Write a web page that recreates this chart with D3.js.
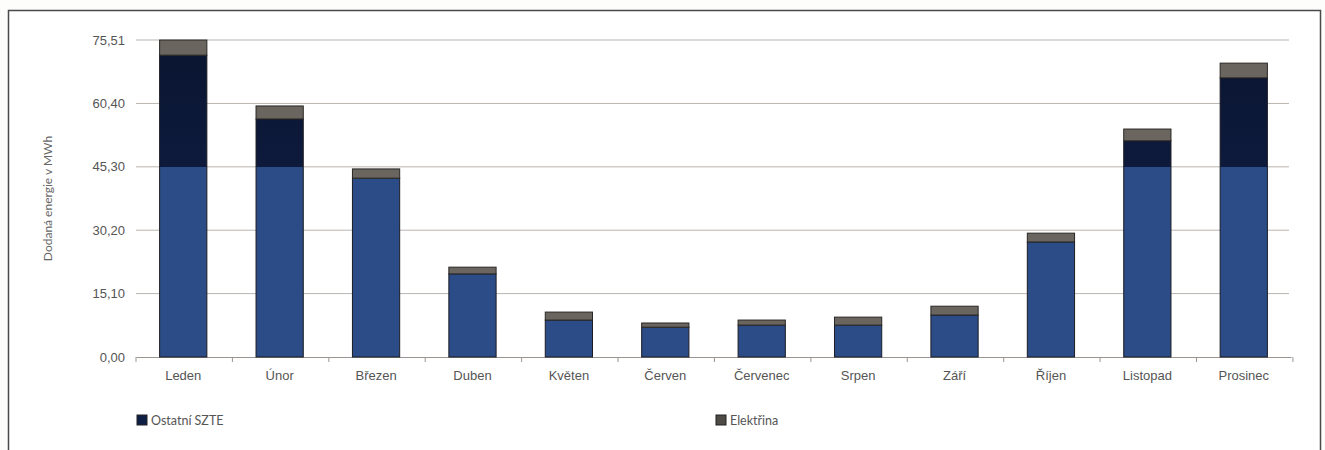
<!DOCTYPE html>
<html>
<head>
<meta charset="utf-8">
<script src="https://cdn.jsdelivr.net/npm/d3@7"></script>
<style>
  html, body { margin: 0; padding: 0; background: #fdfdfc; }
  svg { display: block; font-family: Lato, "Open Sans", sans-serif; }
</style>
</head>
<body>
<svg id="chart" width="1325" height="450"></svg>
<script>
// ── Data ───────────────────────────────────────────────
const months    = ['Leden', 'Únor', 'Březen', 'Duben', 'Květen', 'Červen',
                   'Červenec', 'Srpen', 'Září', 'Říjen', 'Listopad', 'Prosinec'];
const ostatni   = [71.9, 56.7, 42.6, 19.8, 8.8, 7.1, 7.6, 7.6, 10.0, 27.4, 51.5, 66.5];
const elektrina = [3.6, 3.1, 2.2, 1.6, 1.9, 1.0, 1.2, 1.9, 2.1, 2.1, 2.8, 3.5];
const yTicks    = [0, 15.10, 30.20, 45.30, 60.40, 75.51];
const seriesNames = ['Ostatní SZTE', 'Elektřina'];

// ── Layout ─────────────────────────────────────────────
const svg = d3.select('#chart');
const plotLeft = 136, plotRight = 1291, plotTop = 40, plotBottom = 357;

const x = d3.scaleBand().domain(months).range([plotLeft, plotRight])
    .paddingInner(0.51).paddingOuter(0.245);
const y = d3.scaleLinear().domain([0, 75.51]).range([plotBottom, plotTop]);

// frame around the whole figure (scan of a printed chart)
svg.append('rect')
    .attr('x', 8.5).attr('y', 10.5).attr('width', 1312).attr('height', 460)
    .attr('fill', '#ffffff').attr('stroke', '#4a4a4a').attr('stroke-width', 1.5);

// two-tone fill: the printed bars darken above the 45,30 gridline
const defs = svg.append('defs');
const grad = defs.append('linearGradient')
    .attr('id', 'szte').attr('gradientUnits', 'userSpaceOnUse')
    .attr('x1', 0).attr('x2', 0).attr('y1', y(0)).attr('y2', y(75.51));
const cut = (y(0) - y(yTicks[3])) / (y(0) - y(75.51));
grad.append('stop').attr('offset', 0).attr('stop-color', '#2b4c86');
grad.append('stop').attr('offset', cut).attr('stop-color', '#2b4c86');
grad.append('stop').attr('offset', cut).attr('stop-color', '#0d1a3c');
grad.append('stop').attr('offset', 1).attr('stop-color', '#0a1530');

// gridlines
svg.append('g')
    .selectAll('line').data(yTicks.slice(1)).join('line')
    .attr('x1', plotLeft).attr('x2', plotRight - 2)
    .attr('y1', d => y(d)).attr('y2', d => y(d))
    .attr('stroke', '#b9b4b0').attr('stroke-width', 1);

// y axis labels
const yAxis = d3.axisLeft(y).tickValues(yTicks)
    .tickFormat(d => d.toFixed(2).replace('.', ','))
    .tickSize(0).tickPadding(11);
svg.append('g').attr('transform', `translate(${plotLeft},0)`).call(yAxis)
    .call(g => g.select('.domain').remove())
    .selectAll('text').attr('font-size', 13).attr('fill', '#555');

svg.append('text')
    .attr('transform', `translate(52,${(plotTop + plotBottom) / 2}) rotate(-90)`)
    .attr('text-anchor', 'middle')
    .attr('font-size', 12).attr('fill', '#666')
    .text('Dodaná energie v MWh');

// x axis
const xAxis = d3.axisBottom(x).tickSize(0).tickPadding(14);
svg.append('g').attr('transform', `translate(0,${plotBottom})`).call(xAxis)
    .call(g => g.select('.domain').attr('stroke', '#9a9590'))
    .selectAll('text').attr('font-size', 13).attr('fill', '#555');

// tick marks between categories
const step = x.step();
svg.append('g')
    .selectAll('line').data(d3.range(months.length + 1)).join('line')
    .attr('x1', i => plotLeft + i * step).attr('x2', i => plotLeft + i * step)
    .attr('y1', plotBottom).attr('y2', plotBottom + 5)
    .attr('stroke', '#9a9590');

// stacked bars
const rows = months.map((m, i) => ({ month: m, o: ostatni[i], e: elektrina[i] }));
const bars = svg.append('g').selectAll('g').data(rows).join('g');

bars.append('rect')
    .attr('x', d => x(d.month)).attr('width', x.bandwidth())
    .attr('y', d => y(d.o)).attr('height', d => y(0) - y(d.o))
    .attr('fill', 'url(#szte)').attr('stroke', '#1c1c22').attr('stroke-width', 1);

bars.append('rect')
    .attr('x', d => x(d.month)).attr('width', x.bandwidth())
    .attr('y', d => y(d.o + d.e)).attr('height', d => y(d.o) - y(d.o + d.e))
    .attr('fill', '#6a655f').attr('stroke', '#2a2725').attr('stroke-width', 1);

// legend
const legendX = [137, 716];
const legendFill = ['#0f1e44', '#4e4a45'];
const legend = svg.append('g').selectAll('g').data(seriesNames).join('g')
    .attr('transform', (d, i) => `translate(${legendX[i]},415)`);
legend.append('rect').attr('width', 10).attr('height', 10)
    .attr('fill', (d, i) => legendFill[i]).attr('stroke', '#222');
legend.append('text').attr('x', 14).attr('y', 9.5)
    .attr('font-size', 12.5).attr('fill', '#555')
    .text(d => d);
</script>
</body>
</html>
